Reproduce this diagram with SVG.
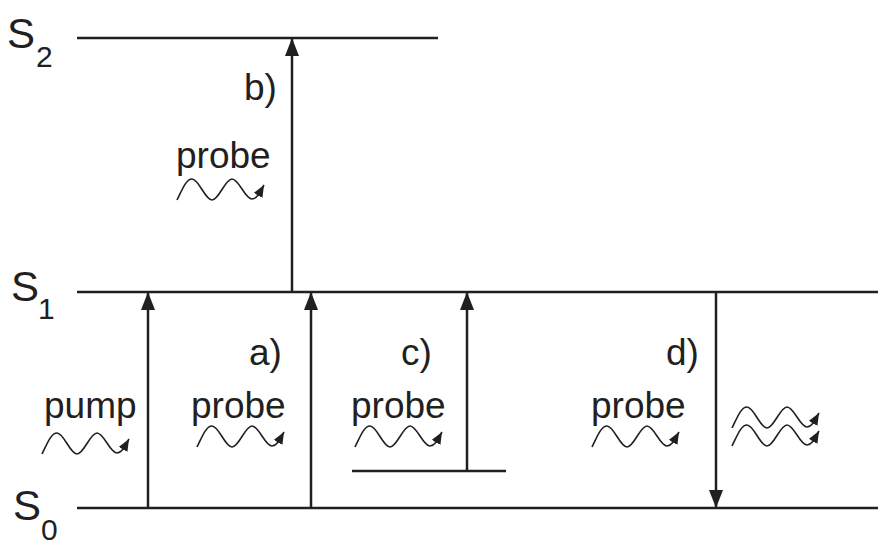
<svg xmlns="http://www.w3.org/2000/svg" xmlns:xlink="http://www.w3.org/1999/xlink" width="880" height="541" viewBox="0 0 880 541">
<style>
.lvl{stroke:#231f20;stroke-width:2.5;fill:none}
.arr{stroke:#231f20;stroke-width:2.5;fill:none;marker-end:url(#ah)}
.wv{stroke:#231f20;stroke-width:1.6;fill:none}
text{font-family:"Liberation Sans",Arial,sans-serif;fill:#231f20}
.lbl{font-size:37px}
.st{font-size:42px}
.sub{font-size:30px}
</style>
<defs>
<marker id="ah" markerUnits="userSpaceOnUse" markerWidth="20" markerHeight="16" refX="18" refY="7" orient="auto">
<path d="M0,0 L18,7 L0,14 z" fill="#231f20"/>
</marker>
<marker id="sh" markerUnits="userSpaceOnUse" markerWidth="14" markerHeight="12" refX="12" refY="5" orient="auto">
<path d="M0,0 L12,5 L0,10 z" fill="#231f20"/>
</marker>
<path id="w" class="wv" marker-end="url(#sh)" d="M0,0 C5,-10 9,-21 15,-21 C22,-21 28,0 35,0 C42,0 48,-21 55,-21 C62,-21 68,-1 75,-1 C80,-1 83,-8 87,-15"/>
</defs>
<g id="S2">
<line class="lvl" x1="77" y1="38" x2="438" y2="38"/>
<text class="st" x="7" y="48">S</text><text class="sub" x="36" y="67">2</text>
</g>
<g id="S1">
<line class="lvl" x1="77" y1="292" x2="878" y2="292"/>
<text class="st" x="11" y="301">S</text><text class="sub" x="38" y="319">1</text>
</g>
<g id="S0">
<line class="lvl" x1="77" y1="508" x2="878" y2="508"/>
<text class="st" x="13" y="520">S</text><text class="sub" x="41" y="540">0</text>
</g>
<g id="c-level">
<line class="lvl" x1="352" y1="471" x2="506" y2="471"/>
</g>
<g id="connectors">
<line class="arr" x1="148" y1="508" x2="148" y2="292"/>
<line class="arr" x1="311" y1="508" x2="311" y2="292"/>
<line class="arr" x1="292" y1="292" x2="292" y2="38"/>
<line class="arr" x1="467" y1="471" x2="467" y2="292"/>
<line class="arr" x1="716" y1="292" x2="716" y2="508"/>
</g>
<g id="pump">
<text class="lbl" x="44" y="418">pump</text>
<use xlink:href="#w" x="42" y="454"/>
</g>
<g id="b">
<text class="lbl" x="244" y="100">b)</text>
<text class="lbl" x="176" y="168">probe</text>
<use xlink:href="#w" x="177" y="200"/>
</g>
<g id="a">
<text class="lbl" x="249" y="365">a)</text>
<text class="lbl" x="191" y="418">probe</text>
<use xlink:href="#w" x="197" y="447"/>
</g>
<g id="c">
<text class="lbl" x="401" y="365">c)</text>
<text class="lbl" x="351" y="418">probe</text>
<use xlink:href="#w" x="355" y="447"/>
</g>
<g id="d">
<text class="lbl" x="666" y="365">d)</text>
<text class="lbl" x="591" y="418">probe</text>
<use xlink:href="#w" x="592" y="447"/>
<use xlink:href="#w" x="732" y="428"/>
<use xlink:href="#w" x="732" y="446"/>
</g>
</svg>
